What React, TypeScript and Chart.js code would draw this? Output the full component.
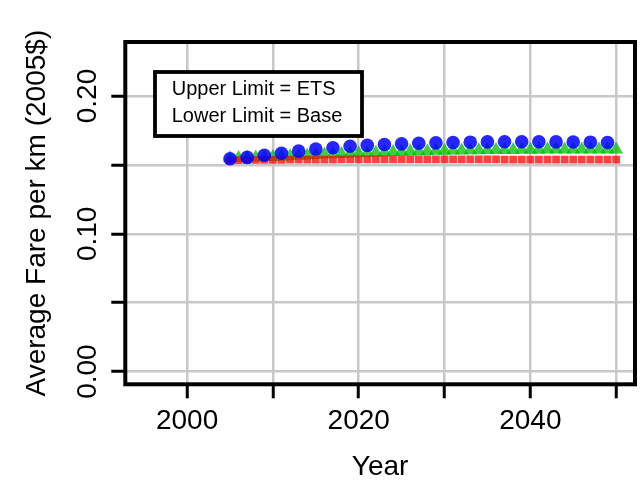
import { useEffect, useRef } from "react";
import { Chart, registerables } from "chart.js";

Chart.register(...registerables);

// Annual model years
const years = [
  2005, 2006, 2007, 2008, 2009, 2010, 2011, 2012, 2013, 2014,
  2015, 2016, 2017, 2018, 2019, 2020, 2021, 2022, 2023, 2024,
  2025, 2026, 2027, 2028, 2029, 2030, 2031, 2032, 2033, 2034,
  2035, 2036, 2037, 2038, 2039, 2040, 2041, 2042, 2043, 2044,
  2045, 2046, 2047, 2048, 2049, 2050,
];

// ETS scenario (upper limit), reported every other year
const etsYears = [
  2005, 2007, 2009, 2011, 2013, 2015, 2017, 2019, 2021, 2023, 2025, 2027,
  2029, 2031, 2033, 2035, 2037, 2039, 2041, 2043, 2045, 2047, 2049,
];
const etsFare = [
  0.1545, 0.1555, 0.157, 0.1585, 0.16, 0.1615, 0.1625, 0.1635, 0.1642, 0.1648, 0.1653, 0.1657,
  0.166, 0.1663, 0.1665, 0.1667, 0.1668, 0.1668, 0.1668, 0.1667, 0.1666, 0.1665, 0.1663,
];

// Intermediate scenario
const midFare = [
  0.1548, 0.155, 0.1551, 0.1553, 0.1555, 0.1557, 0.156, 0.1563, 0.1566, 0.1569,
  0.1572, 0.1575, 0.1578, 0.158, 0.1583, 0.1585, 0.1587, 0.1589, 0.1591, 0.1593,
  0.1595, 0.1597, 0.1599, 0.16, 0.1602, 0.1603, 0.1604, 0.1605, 0.1606, 0.1607,
  0.1608, 0.1608, 0.1609, 0.1609, 0.161, 0.161, 0.161, 0.1611, 0.1611, 0.1611,
  0.1611, 0.1611, 0.1612, 0.1612, 0.1612, 0.1612,
];

// Base scenario (lower limit)
const baseFare = [
  0.1533, 0.1534, 0.1535, 0.1536, 0.1536, 0.1537, 0.1537, 0.1538, 0.1538, 0.1538,
  0.1539, 0.1539, 0.1539, 0.154, 0.154, 0.154, 0.154, 0.154, 0.154, 0.154,
  0.154, 0.154, 0.154, 0.154, 0.154, 0.154, 0.154, 0.154, 0.154, 0.154,
  0.154, 0.154, 0.1539, 0.1539, 0.1539, 0.1539, 0.1539, 0.1539, 0.1538, 0.1538,
  0.1538, 0.1538, 0.1538, 0.1538, 0.1538, 0.1538,
];

const xTicks = [2000, 2010, 2020, 2030, 2040, 2050];
const xTickLabels = ["2000", "", "2020", "", "2040", ""];
const yTicks = [0, 0.05, 0.1, 0.15, 0.2];
const yTickLabels = ["0.00", "", "0.10", "", "0.20"];
const legendLines = ["Upper Limit = ETS", "Lower Limit = Base"];

const FONT = '"Liberation Sans", Arial, Helvetica, sans-serif';

// Box around the plot, rotated y tick labels and the text-only legend
const framePlugin = {
  id: "frame",
  afterDatasetsDraw(chart: any) {
    const { ctx, chartArea: a, scales } = chart;
    const y = scales.y;
    ctx.save();

    ctx.fillStyle = "#000";
    ctx.font = `28px ${FONT}`;
    ctx.textAlign = "center";
    ctx.textBaseline = "alphabetic";
    yTicks.forEach((v, i) => {
      const label = yTickLabels[i];
      if (!label) return;
      ctx.save();
      ctx.translate(a.left - 29, y.getPixelForValue(v));
      ctx.rotate(-Math.PI / 2);
      ctx.fillText(label, 0, 0);
      ctx.restore();
    });

    ctx.lineWidth = 4;
    ctx.strokeStyle = "#000";
    ctx.strokeRect(a.left, a.top, a.right - a.left, a.bottom - a.top);

    const lx = a.left + 29.7;
    const ly = a.top + 30;
    const lw = 207;
    const lh = 64;
    ctx.fillStyle = "#fff";
    ctx.fillRect(lx, ly, lw, lh);
    ctx.lineWidth = 3.8;
    ctx.strokeRect(lx, ly, lw, lh);
    ctx.fillStyle = "#000";
    ctx.font = `20px ${FONT}`;
    ctx.textAlign = "left";
    ctx.fillText(legendLines[0], lx + 16.7, ly + 23);
    ctx.fillText(legendLines[1], lx + 16.7, ly + 49.7);

    ctx.restore();
  },
};

export default function App() {
  const canvasRef = useRef<HTMLCanvasElement | null>(null);

  useEffect(() => {
    const canvas = canvasRef.current;
    if (!canvas) return;

    const chart = new Chart(canvas, {
      type: "scatter",
      data: {
        datasets: [
          {
            label: "ETS",
            data: etsYears.map((yr, i) => ({ x: yr, y: etsFare[i] })),
            pointStyle: "circle",
            pointRadius: 6.8,
            pointBackgroundColor: "rgba(0,0,255,0.85)",
            pointBorderColor: "rgba(0,0,255,0)",
            pointBorderWidth: 0,
            showLine: false,
          },
          {
            label: "Base",
            data: years.map((yr, i) => ({ x: yr, y: baseFare[i] })),
            pointStyle: "rect",
            pointRadius: 5.5,
            pointBackgroundColor: "rgba(255,0,0,0.75)",
            pointBorderColor: "rgba(255,0,0,0)",
            pointBorderWidth: 0,
            showLine: false,
          },
          {
            label: "Intermediate",
            data: years.map((yr, i) => ({ x: yr, y: midFare[i] })),
            pointStyle: "triangle",
            pointRadius: 8,
            pointBackgroundColor: "rgba(0,190,0,0.75)",
            pointBorderColor: "rgba(0,190,0,0)",
            pointBorderWidth: 0,
            showLine: false,
          },
        ],
      },
      options: {
        responsive: false,
        animation: false,
        layout: { padding: { top: 42, right: 2.5, left: 0, bottom: 0 } },
        plugins: {
          legend: { display: false },
          tooltip: { enabled: false },
        },
        scales: {
          x: {
            type: "linear",
            position: "bottom",
            min: 1992.8,
            max: 2052.2,
            afterBuildTicks: (s: any) => {
              s.ticks = xTicks.map((v) => ({ value: v }));
            },
            afterFit: (s: any) => {
              s.height = 97.7;
            },
            border: { display: false },
            grid: {
              color: "#c8c8c8",
              lineWidth: 2.5,
              drawTicks: true,
              tickLength: 14,
              tickColor: "#000",
              tickWidth: 3,
            },
            ticks: {
              autoSkip: false,
              maxRotation: 0,
              minRotation: 0,
              padding: 6,
              color: "#000",
              font: { family: FONT, size: 28 },
              callback: (value: any) => {
                const i = xTicks.indexOf(Number(value));
                return i >= 0 ? xTickLabels[i] : "";
              },
            },
            title: {
              display: true,
              text: "Year",
              color: "#000",
              font: { family: FONT, size: 28, lineHeight: 1 },
              padding: { top: 0, bottom: 1 },
            },
          },
          y: {
            type: "linear",
            position: "left",
            min: -0.0092,
            max: 0.2392,
            afterBuildTicks: (s: any) => {
              s.ticks = yTicks.map((v) => ({ value: v }));
            },
            afterFit: (s: any) => {
              s.width = 125.3;
            },
            border: { display: false },
            grid: {
              color: "#c8c8c8",
              lineWidth: 2.5,
              drawTicks: true,
              tickLength: 14,
              tickColor: "#000",
              tickWidth: 3,
            },
            ticks: { display: false },
            title: {
              display: true,
              text: "Average Fare per km (2005$)",
              color: "#000",
              font: { family: FONT, size: 28, lineHeight: 1 },
              padding: { top: 23, bottom: 0 },
            },
          },
        },
      },
      plugins: [framePlugin],
    });

    return () => chart.destroy();
  }, []);

  return (
    <div style={{ position: "absolute", left: 0, top: 0, width: 643, height: 482 }}>
      <canvas ref={canvasRef} width={643} height={482} style={{ display: "block" }} />
    </div>
  );
}
